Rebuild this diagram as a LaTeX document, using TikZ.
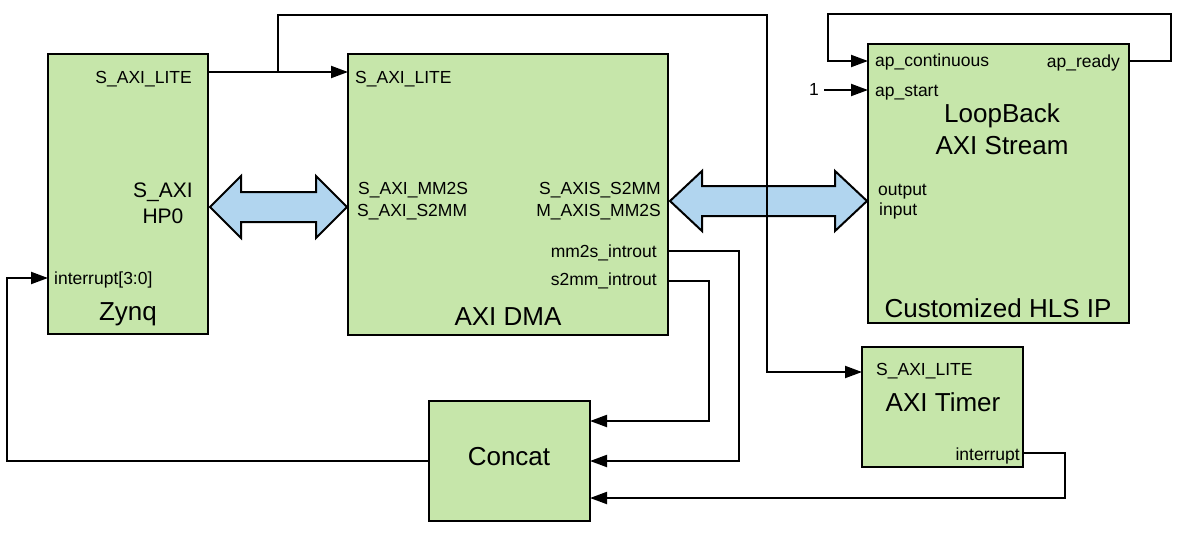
\documentclass[tikz,border=0pt]{standalone}
\usepackage{fontspec}
\setmainfont{Liberation Sans}
\usetikzlibrary{arrows.meta}
\definecolor{boxgreen}{RGB}{198,230,170}
\definecolor{busblue}{RGB}{177,213,239}
\begin{document}
\begin{tikzpicture}[x=1pt,y=-1pt,
 box/.style={draw=black, fill=boxgreen, line width=2pt, anchor=north west, inner sep=0pt, outer sep=0pt},
 wire/.style={draw=black, line width=2pt},
 sig/.style={wire, -{Triangle[length=17pt,width=12pt]}},
 sm/.style={inner sep=0pt, font=\fontsize{17.5}{20}\selectfont},
 md/.style={inner sep=0pt, font=\fontsize{21}{25}\selectfont, align=center},
 bg/.style={inner sep=0pt, font=\fontsize{26}{30}\selectfont},
 bus/.style={draw=black, fill=busblue, line width=2pt, line join=miter}
]
\useasboundingbox (0,0) rectangle (1181,536);
% boxes
\node[box, minimum width=160pt, minimum height=280pt] (zynq) at (48,54) {};
\node[box, minimum width=320pt, minimum height=281pt] (dma) at (348,54) {};
\node[box, minimum width=261pt, minimum height=279pt] (hls) at (868,44) {};
\node[box, minimum width=161pt, minimum height=120pt] (timer) at (862,347) {};
\node[box, minimum width=161pt, minimum height=120pt] (concat) at (429,401) {};

% bus arrows
\draw[bus] (210,207) -- (241,176) -- (241,192) -- (316,192) -- (316,176) -- (347,207)
  -- (316,238) -- (316,222) -- (241,222) -- (241,238) -- cycle;
\draw[bus] (670,201) -- (702,171) -- (702,186) -- (835,186) -- (835,171) -- (867,201)
  -- (835,231) -- (835,216) -- (702,216) -- (702,231) -- cycle;

% ports
\coordinate (zlite) at ([yshift=-18pt]zynq.north east);
\coordinate (zint) at ([yshift=-224pt]zynq.north west);
\coordinate (mm2s) at ([yshift=-197pt]dma.north east);
\coordinate (s2mm) at ([yshift=-227pt]dma.north east);
\coordinate (tlite) at ([yshift=-25pt]timer.north west);
\coordinate (tint) at ([yshift=-106pt]timer.north east);
\coordinate (cin1) at ([yshift=-20pt]concat.north east);
\coordinate (cin2) at ([yshift=-60pt]concat.north east);
\coordinate (cin3) at ([yshift=-97pt]concat.north east);
\coordinate (apr) at ([yshift=-17pt]hls.north east);
\coordinate (apc) at ([yshift=-17pt]hls.north west);
\coordinate (aps) at ([yshift=-46pt]hls.north west);
\coordinate (br) at (278,72);
\coordinate (t1) at (767,15);

% wires
\draw[sig] (zlite) -- (zlite -| dma.west);
\draw[sig] (br) |- (t1) |- (tlite);
\draw[sig] (s2mm) -- ++(41,0) |- (cin1);
\draw[sig] (mm2s) -- ++(71,0) |- (cin2);
\draw[sig] (tint) -- ++(42,0) |- (cin3);
\draw[sig] (concat.west) -- ++(-422,0) |- (zint);
\draw[sig] (apr) -- ++(42,0) -- ++(0,-47) -- ++(-343,0) -- ++(0,47) -- (apc);
\node[sm, anchor=east, inner xsep=5pt] (one) at (824,89) {1};
\draw[sig] (one.east |- aps) -- (aps);

% Zynq labels
\node[sm, anchor=base east] (zl1) at (192,83) {S\_AXI\_LITE};
\node[md, anchor=base] (zl2) at (163,197) {S\_AXI};
\node[md, anchor=base] (zl3) at (163,223) {HP0};
\node[sm, anchor=base west] (zl4) at (54,284) {interrupt[3:0]};
\node[bg, anchor=base] (zl5) at (128,320) {Zynq};

% DMA labels
\node[sm, anchor=base west] (dl1) at (355,83) {S\_AXI\_LITE};
\node[sm, anchor=base west] (dl2) at (358,194) {S\_AXI\_MM2S};
\node[sm, anchor=base west] (dl3) at (357,216.5) {S\_AXI\_S2MM};
\node[sm, anchor=base east] (dl4) at (661,194) {S\_AXIS\_S2MM};
\node[sm, anchor=base east] (dl5) at (661,216.5) {M\_AXIS\_MM2S};
\node[sm, anchor=base east] (dl6) at (657,257) {mm2s\_introut};
\node[sm, anchor=base east] (dl7) at (657,285) {s2mm\_introut};
\node[bg, anchor=base] (dl8) at (508,325) {AXI DMA};

% HLS labels
\node[sm, anchor=base west] (hl1) at (875,66) {ap\_continuous};
\node[sm, anchor=base east] (hl2) at (1120,67) {ap\_ready};
\node[sm, anchor=base west] (hl3) at (875,96) {ap\_start};
\node[bg, anchor=base] (hl4) at (1002,122) {LoopBack};
\node[bg, anchor=base] (hl5) at (1002,154) {AXI Stream};
\node[sm, anchor=base west] (hl6) at (878,195) {output};
\node[sm, anchor=base west] (hl7) at (879,215) {input};
\node[bg, anchor=base] (hl8) at (998,317) {Customized HLS IP};

% Timer labels
\node[sm, anchor=base west] (tl1) at (876,375) {S\_AXI\_LITE};
\node[bg, anchor=base] (tl2) at (943,411) {AXI Timer};
\node[sm, anchor=base east] (tl3) at (1020,460) {interrupt};

% Concat label
\node[bg, anchor=base] (cl1) at (509,465) {Concat};
\end{tikzpicture}
\end{document}
